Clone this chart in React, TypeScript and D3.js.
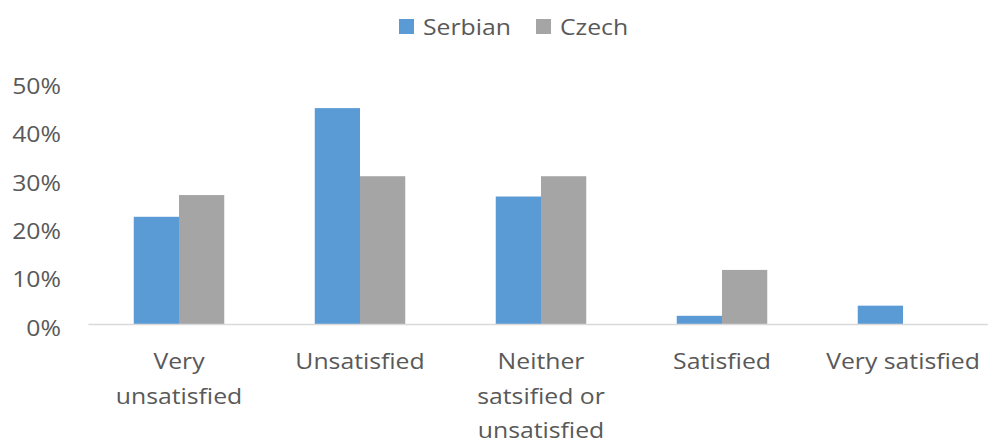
import React, { useEffect, useRef } from 'react';
import * as d3 from 'd3';

// categories (with the line breaks used on the axis)
const categories = ['Very unsatisfied', 'Unsatisfied', 'Neither satsified or unsatisfied', 'Satisfied', 'Very satisfied'];
const categoryLines = [
    ['Very', 'unsatisfied'],
    ['Unsatisfied'],
    ['Neither', 'satsified or', 'unsatisfied'],
    ['Satisfied'],
    ['Very satisfied'],
];
const seriesNames = ['Serbian', 'Czech'];
const serbian = [0.223, 0.448, 0.265, 0.018, 0.039];
const czech = [0.268, 0.307, 0.307, 0.113, 0];
const yTicks = [0, 0.1, 0.2, 0.3, 0.4, 0.5];

const colors = ['#5b9bd5', '#a5a5a5'];
const textColor = '#595959';
const font = '"Open Sans", sans-serif';
const stretch = 1.18; // the original text is a bit wider than Open Sans

const App = () => {
    const ref = useRef(null);

    useEffect(() => {
        const svg = d3.select(ref.current);
        svg.selectAll('*').remove();

        const width = 988;
        const margin = { top: 83, left: 88.5, bottom: 324.5 };

        const x = d3.scaleBand()
            .domain(categories)
            .range([margin.left, margin.left + 905])
            .paddingInner(0.5)
            .paddingOuter(0.25);

        const xSeries = d3.scaleBand()
            .domain(seriesNames)
            .range([0, x.bandwidth()]);

        const y = d3.scaleLinear()
            .domain([0, 0.5])
            .range([margin.bottom, margin.top]);

        const rows = categories.map((c, i) => ({ category: c, values: [serbian[i], czech[i]] }));

        // bars
        const groups = svg.append('g')
            .selectAll('g')
            .data(rows)
            .join('g')
            .attr('transform', d => `translate(${x(d.category)},0)`);

        groups.selectAll('rect')
            .data(d => d.values.map((v, i) => ({ name: seriesNames[i], value: v, color: colors[i] })))
            .join('rect')
            .attr('x', d => xSeries(d.name))
            .attr('width', xSeries.bandwidth())
            .attr('y', d => y(d.value))
            .attr('height', d => y(0) - y(d.value))
            .attr('fill', d => d.color);

        // baseline
        svg.append('line')
            .attr('x1', margin.left)
            .attr('x2', width)
            .attr('y1', y(0))
            .attr('y2', y(0))
            .attr('stroke', '#d9d9d9')
            .attr('stroke-width', 1.5);

        // y labels
        svg.append('g')
            .selectAll('text')
            .data(yTicks)
            .join('text')
            .attr('transform', d => `translate(61,${y(d) + 11}) scale(${stretch},1)`)
            .attr('text-anchor', 'end')
            .attr('font-family', font)
            .attr('font-size', 21)
            .attr('fill', textColor)
            .text(d3.format('.0%'));

        // x labels
        const xLabels = svg.append('g')
            .selectAll('g')
            .data(categories)
            .join('g')
            .attr('transform', d => `translate(${x(d) + x.bandwidth() / 2},0)`);

        xLabels.selectAll('text')
            .data((d, i) => categoryLines[i])
            .join('text')
            .attr('transform', (d, j) => `translate(0,${369 + j * 34.5}) scale(${stretch},1)`)
            .attr('text-anchor', 'middle')
            .attr('font-family', font)
            .attr('font-size', 21)
            .attr('fill', textColor)
            .text(d => d);

        // legend
        const legendX = [399, 536];
        const legend = svg.append('g')
            .selectAll('g')
            .data(seriesNames)
            .join('g')
            .attr('transform', (d, i) => `translate(${legendX[i]},0)`);

        legend.append('rect')
            .attr('x', 0)
            .attr('y', 19)
            .attr('width', 15)
            .attr('height', 15)
            .attr('fill', (d, i) => colors[i]);

        legend.append('text')
            .attr('transform', `translate(24,35) scale(${stretch},1)`)
            .attr('font-family', font)
            .attr('font-size', 21)
            .attr('fill', textColor)
            .text(d => d);
    }, []);

    return (
        <svg
            ref={ref}
            width={988}
            height={444}
            style={{ position: 'absolute', left: 0, top: 0, background: 'white', display: 'block' }}
        ></svg>
    );
};

export default App;
